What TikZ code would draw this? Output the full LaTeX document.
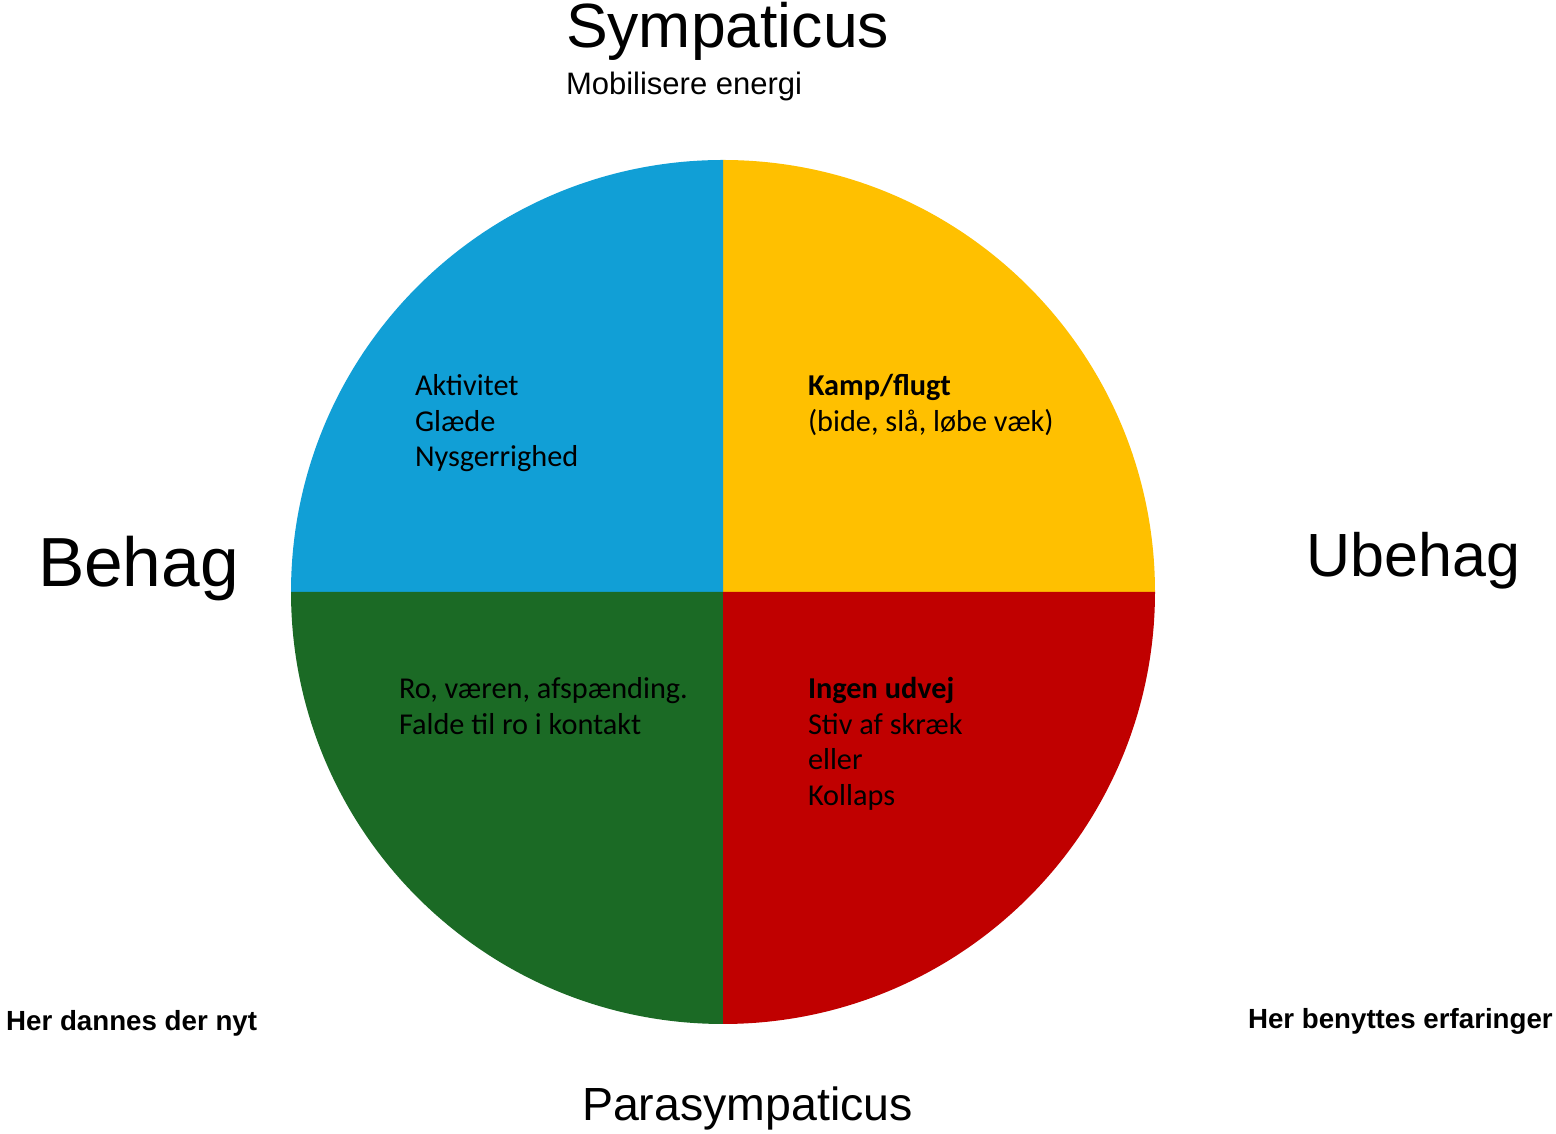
\documentclass[tikz,border=0pt]{standalone}
\usepackage{fontspec}
\setmainfont{Liberation Sans}
\newfontfamily\qfont{Carlito}
\definecolor{qblue}{HTML}{119FD6}
\definecolor{qyellow}{HTML}{FFC000}
\definecolor{qgreen}{HTML}{1B6A25}
\definecolor{qred}{HTML}{C00000}
\begin{document}
\begin{tikzpicture}[x=1pt,y=1pt,
  lbl/.style={inner sep=0pt,outer sep=0pt,anchor=base west},
  qtext/.style={lbl,align=left,font={\qfont\fontsize{30.3}{35.5}\selectfont}},
  big/.style={lbl,font={\fontsize{#1}{#1}\selectfont}},
  note/.style={inner sep=0pt,font={\bfseries\fontsize{27.7}{27.7}\selectfont}}]
\useasboundingbox (0,0) rectangle (1556,1134);
\coordinate (c) at (723,542);
\fill[qyellow] (c) -- ++(0:432) arc[start angle=0,end angle=90,radius=432] -- cycle;
\fill[qblue] (c) -- ++(90:432) arc[start angle=90,end angle=180,radius=432] -- cycle;
\fill[qgreen] (c) -- ++(180:432) arc[start angle=180,end angle=270,radius=432] -- cycle;
\fill[qred] (c) -- ++(270:432) arc[start angle=270,end angle=360,radius=432] -- cycle;
\node[big=62.5] (symp) at (566,1086) {Sympaticus};
\node[big=31] (mob) at (566,1039) {Mobilisere energi};
\node[big=69.5] (behag) at (38,547) {Behag};
\node[big=61,anchor=base east] (ubehag) at (1520,557) {Ubehag};
\node[big=46.5] (para) at (582,13) {Parasympaticus};
\node[note,anchor=base west] (nyt) at (6,103) {Her dannes der nyt};
\node[note,anchor=base east] (erf) at (1553,105) {Her benyttes erfaringer};
\node[qtext] (q1) at (415,667) {Aktivitet\\Glæde\\Nysgerrighed};
\node[qtext] (q2) at (808,702.5) {\textbf{Kamp/flugt}\\(bide, slå, løbe væk)};
\node[qtext] (q3) at (399,399.5) {Ro, væren, afspænding.\\Falde til ro i kontakt};
\node[qtext] (q4) at (808,328.5) {\textbf{Ingen udvej}\\Stiv af skræk\\eller\\Kollaps};
\end{tikzpicture}
\end{document}
